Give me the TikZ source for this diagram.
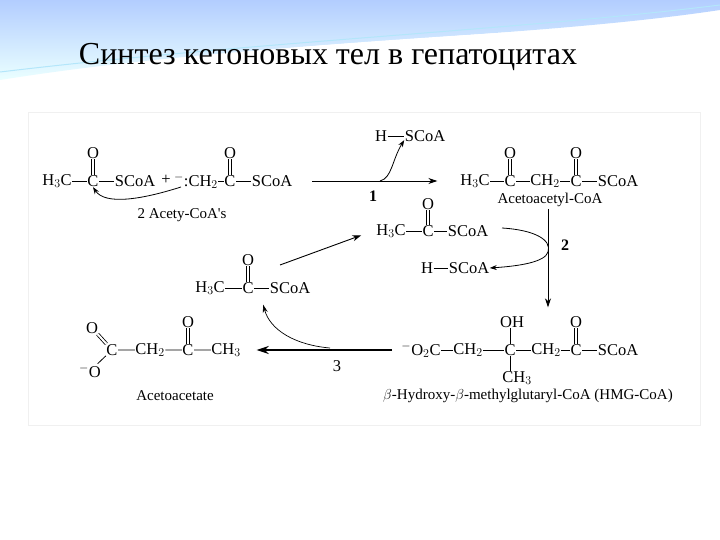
\documentclass[tikz,border=0pt]{standalone}
\usepackage{fontspec}
\setmainfont{Liberation Serif}
\newfontfamily\plainserif{Liberation Serif}
\usetikzlibrary{arrows.meta}
\begin{document}
\begin{tikzpicture}[x=1pt,y=-1pt,
  atm/.style={inner sep=0.4pt,font=\fontsize{16.5}{16.5}\selectfont},
  lbl/.style={inner sep=1pt,font=\fontsize{15}{15}\selectfont},
  bond/.style={line width=0.8pt},
  arr/.style={line width=0.9pt,-{Stealth[length=9pt,width=6pt]}},
  thickarr/.style={line width=1.6pt,-{Stealth[length=12pt,width=8pt]}}]
\useasboundingbox (0,0) rectangle (720,540);
\fill[white] (0,0) rectangle (720,540);
% decorative swoosh
\shade[top color=cyan!35!blue!30,bottom color=cyan!8] (0,0) -- (720,0) -- (720,10) .. controls (520,40) and (250,40) .. (0,80) -- cycle;
\draw[white,line width=2pt] (30,78) .. controls (250,45) and (500,35) .. (720,20);
\draw[cyan!30,line width=1pt] (0,72) .. controls (250,42) and (520,30) .. (720,5);
\node[font=\fontsize{32}{32}\selectfont] (title) at (328,57) {Синтез кетоновых тел в гепатоцитах};
\draw[black!6] (28,112) rectangle (700,425);
% row 1 left
\node[atm] (a1) at (57,181) {H$_3$C};
\node[atm] (a2) at (93,181) {C};
\node[atm] (a3) at (135,181) {SCoA};
\node[atm] (a4) at (93,153) {O};
\node[atm] (plus) at (166,180) {+};
\node[atm] (a5) at (196,181) {$^-$:CH$_2$};
\node[atm] (a6) at (230,181) {C};
\node[atm] (a7) at (272,181) {SCoA};
\node[atm] (a8) at (230,153) {O};
\draw[bond] (a1)--(a2) (a2)--(a3) (a5)--(a6) (a6)--(a7);
\draw[bond] ([xshift=-1.5]a2.north)--([xshift=-1.5]a4.south) ([xshift=1.5]a2.north)--([xshift=1.5]a4.south);
\draw[bond] ([xshift=-1.5]a6.north)--([xshift=-1.5]a8.south) ([xshift=1.5]a6.north)--([xshift=1.5]a8.south);
\coordinate (c1) at (181,187);
\draw[line width=0.8pt,-{Stealth[length=7pt,width=5pt]}] (c1) .. controls (140,200) and (105,205) .. (a2.south);
\node[lbl] (l1) at (182,215) {2 Acety-CoA{\plainserif '}s};
% reaction 1
\coordinate (r1s) at (312,181);
\node[inner sep=0] (r1e) at (438,181) {};
\draw[arr] (r1s) -- (r1e);
\node[font=\bfseries\fontsize{16}{16}\selectfont] (n1) at (373,196) {1};
\node[atm] (h1) at (381,136) {H};
\node[atm] (h2) at (425,136) {SCoA};
\draw[bond] (h1)--(h2);
\coordinate (b1) at (380,181);
\draw[line width=0.8pt,-{Stealth[length=7pt,width=5pt]}] (b1) .. controls (392,178) and (392,160) .. ([yshift=2]h2.south west);
% acetoacetyl-CoA
\node[atm] (p1) at (475,181) {H$_3$C};
\node[atm] (p2) at (510,181) {C};
\node[atm] (p3) at (545,181) {CH$_2$};
\node[atm] (p4) at (576,181) {C};
\node[atm] (p5) at (618,181) {SCoA};
\node[atm] (p6) at (510,153) {O};
\node[atm] (p7) at (576,153) {O};
\draw[bond] (p1)--(p2) (p2)--(p3) (p3)--(p4) (p4)--(p5);
\draw[bond] ([xshift=-1.5]p2.north)--([xshift=-1.5]p6.south) ([xshift=1.5]p2.north)--([xshift=1.5]p6.south);
\draw[bond] ([xshift=-1.5]p4.north)--([xshift=-1.5]p7.south) ([xshift=1.5]p4.north)--([xshift=1.5]p7.south);
\node[lbl] (l2) at (550,200) {Acetoacetyl-CoA};
% middle acetyl-CoA (right)
\node[atm] (m1) at (391,231) {H$_3$C};
\node[atm] (m2) at (428,231) {C};
\node[atm] (m3) at (468,231) {SCoA};
\node[atm] (m4) at (428,204) {O};
\draw[bond] (m1)--(m2) (m2)--(m3);
\draw[bond] ([xshift=-1.5]m2.north)--([xshift=-1.5]m4.south) ([xshift=1.5]m2.north)--([xshift=1.5]m4.south);
\node[atm] (k1) at (427,268) {H};
\node[atm] (k2) at (469,268) {SCoA};
\draw[bond] (k1)--(k2);
% reaction 2
\coordinate (v1) at (548,209);
\node[inner sep=0] (v2) at (548,308) {};
\draw[arr] (v1) -- (v2);
\node[font=\bfseries\fontsize{16}{16}\selectfont] (n2) at (565,245) {2};
\coordinate (q1) at (502,228);
\draw[line width=0.8pt,-{Stealth[length=7pt,width=5pt]}] (q1) .. controls (535,230) and (552,240) .. (548,252) .. controls (545,262) and (520,266) .. (k2.east);
% left acetyl-CoA
\node[atm] (w1) at (210,288) {H$_3$C};
\node[atm] (w2) at (248,288) {C};
\node[atm] (w3) at (290,288) {SCoA};
\node[atm] (w4) at (248,260) {O};
\draw[bond] (w1)--(w2) (w2)--(w3);
\draw[bond] ([xshift=-1.5]w2.north)--([xshift=-1.5]w4.south) ([xshift=1.5]w2.north)--([xshift=1.5]w4.south);
\coordinate (s1) at (280,265);
\node[inner sep=0] (s2) at (362,235) {};
\draw[arr] (s1) -- (s2);
% HMG-CoA
\node[atm] (g1) at (421,350) {$^-$O$_2$C};
\node[atm] (g2) at (468,350) {CH$_2$};
\node[atm] (g3) at (510,350) {C};
\node[atm] (g4) at (546,350) {CH$_2$};
\node[atm] (g5) at (576,350) {C};
\node[atm] (g6) at (618,350) {SCoA};
\node[atm] (g7) at (512,322) {OH};
\node[atm] (g8) at (576,322) {O};
\node[atm] (g9) at (517,378) {CH$_3$};
\draw[bond] (g1)--(g2) (g2)--(g3) (g3)--(g4) (g4)--(g5) (g5)--(g6);
\draw[bond] (g3)--(g7.south-|g3) (g3)--(g9.north-|g3);
\draw[bond] ([xshift=-1.5]g5.north)--([xshift=-1.5]g8.south) ([xshift=1.5]g5.north)--([xshift=1.5]g8.south);
\node[lbl] (l3) at (528,396) {$\beta$-Hydroxy-$\beta$-methylglutaryl-CoA (HMG-CoA)};
% reaction 3
\coordinate (t1) at (392,350);
\node[inner sep=0] (t2) at (256,350) {};
\draw[thickarr] (t1) -- (t2);
\node[atm] (n3) at (337,366) {3};
\coordinate (u1) at (330,348);
\node[inner sep=0] (u2) at (263,304) {};
\draw[line width=0.7pt,-{Stealth[length=8pt,width=5pt]}] (u1) .. controls (295,345) and (270,330) .. (u2);
% acetoacetate
\node[atm] (e1) at (112,350) {C};
\node[atm] (e2) at (92,328) {O};
\node[atm] (e3) at (90,371) {$^-$O};
\node[atm] (e4) at (150,350) {CH$_2$};
\node[atm] (e5) at (188,350) {C};
\node[atm] (e6) at (226,350) {CH$_3$};
\node[atm] (e7) at (188,322) {O};
\draw[bond] (e1)--(e4) (e4)--(e5) (e5)--(e6) (e1)--(e3);
\draw[bond,double distance=2pt] (e1)--(e2);
\draw[bond] ([xshift=-1.5]e5.north)--([xshift=-1.5]e7.south) ([xshift=1.5]e5.north)--([xshift=1.5]e7.south);
\node[lbl] (l4) at (175,396) {Acetoacetate};
\end{tikzpicture}
\end{document}
